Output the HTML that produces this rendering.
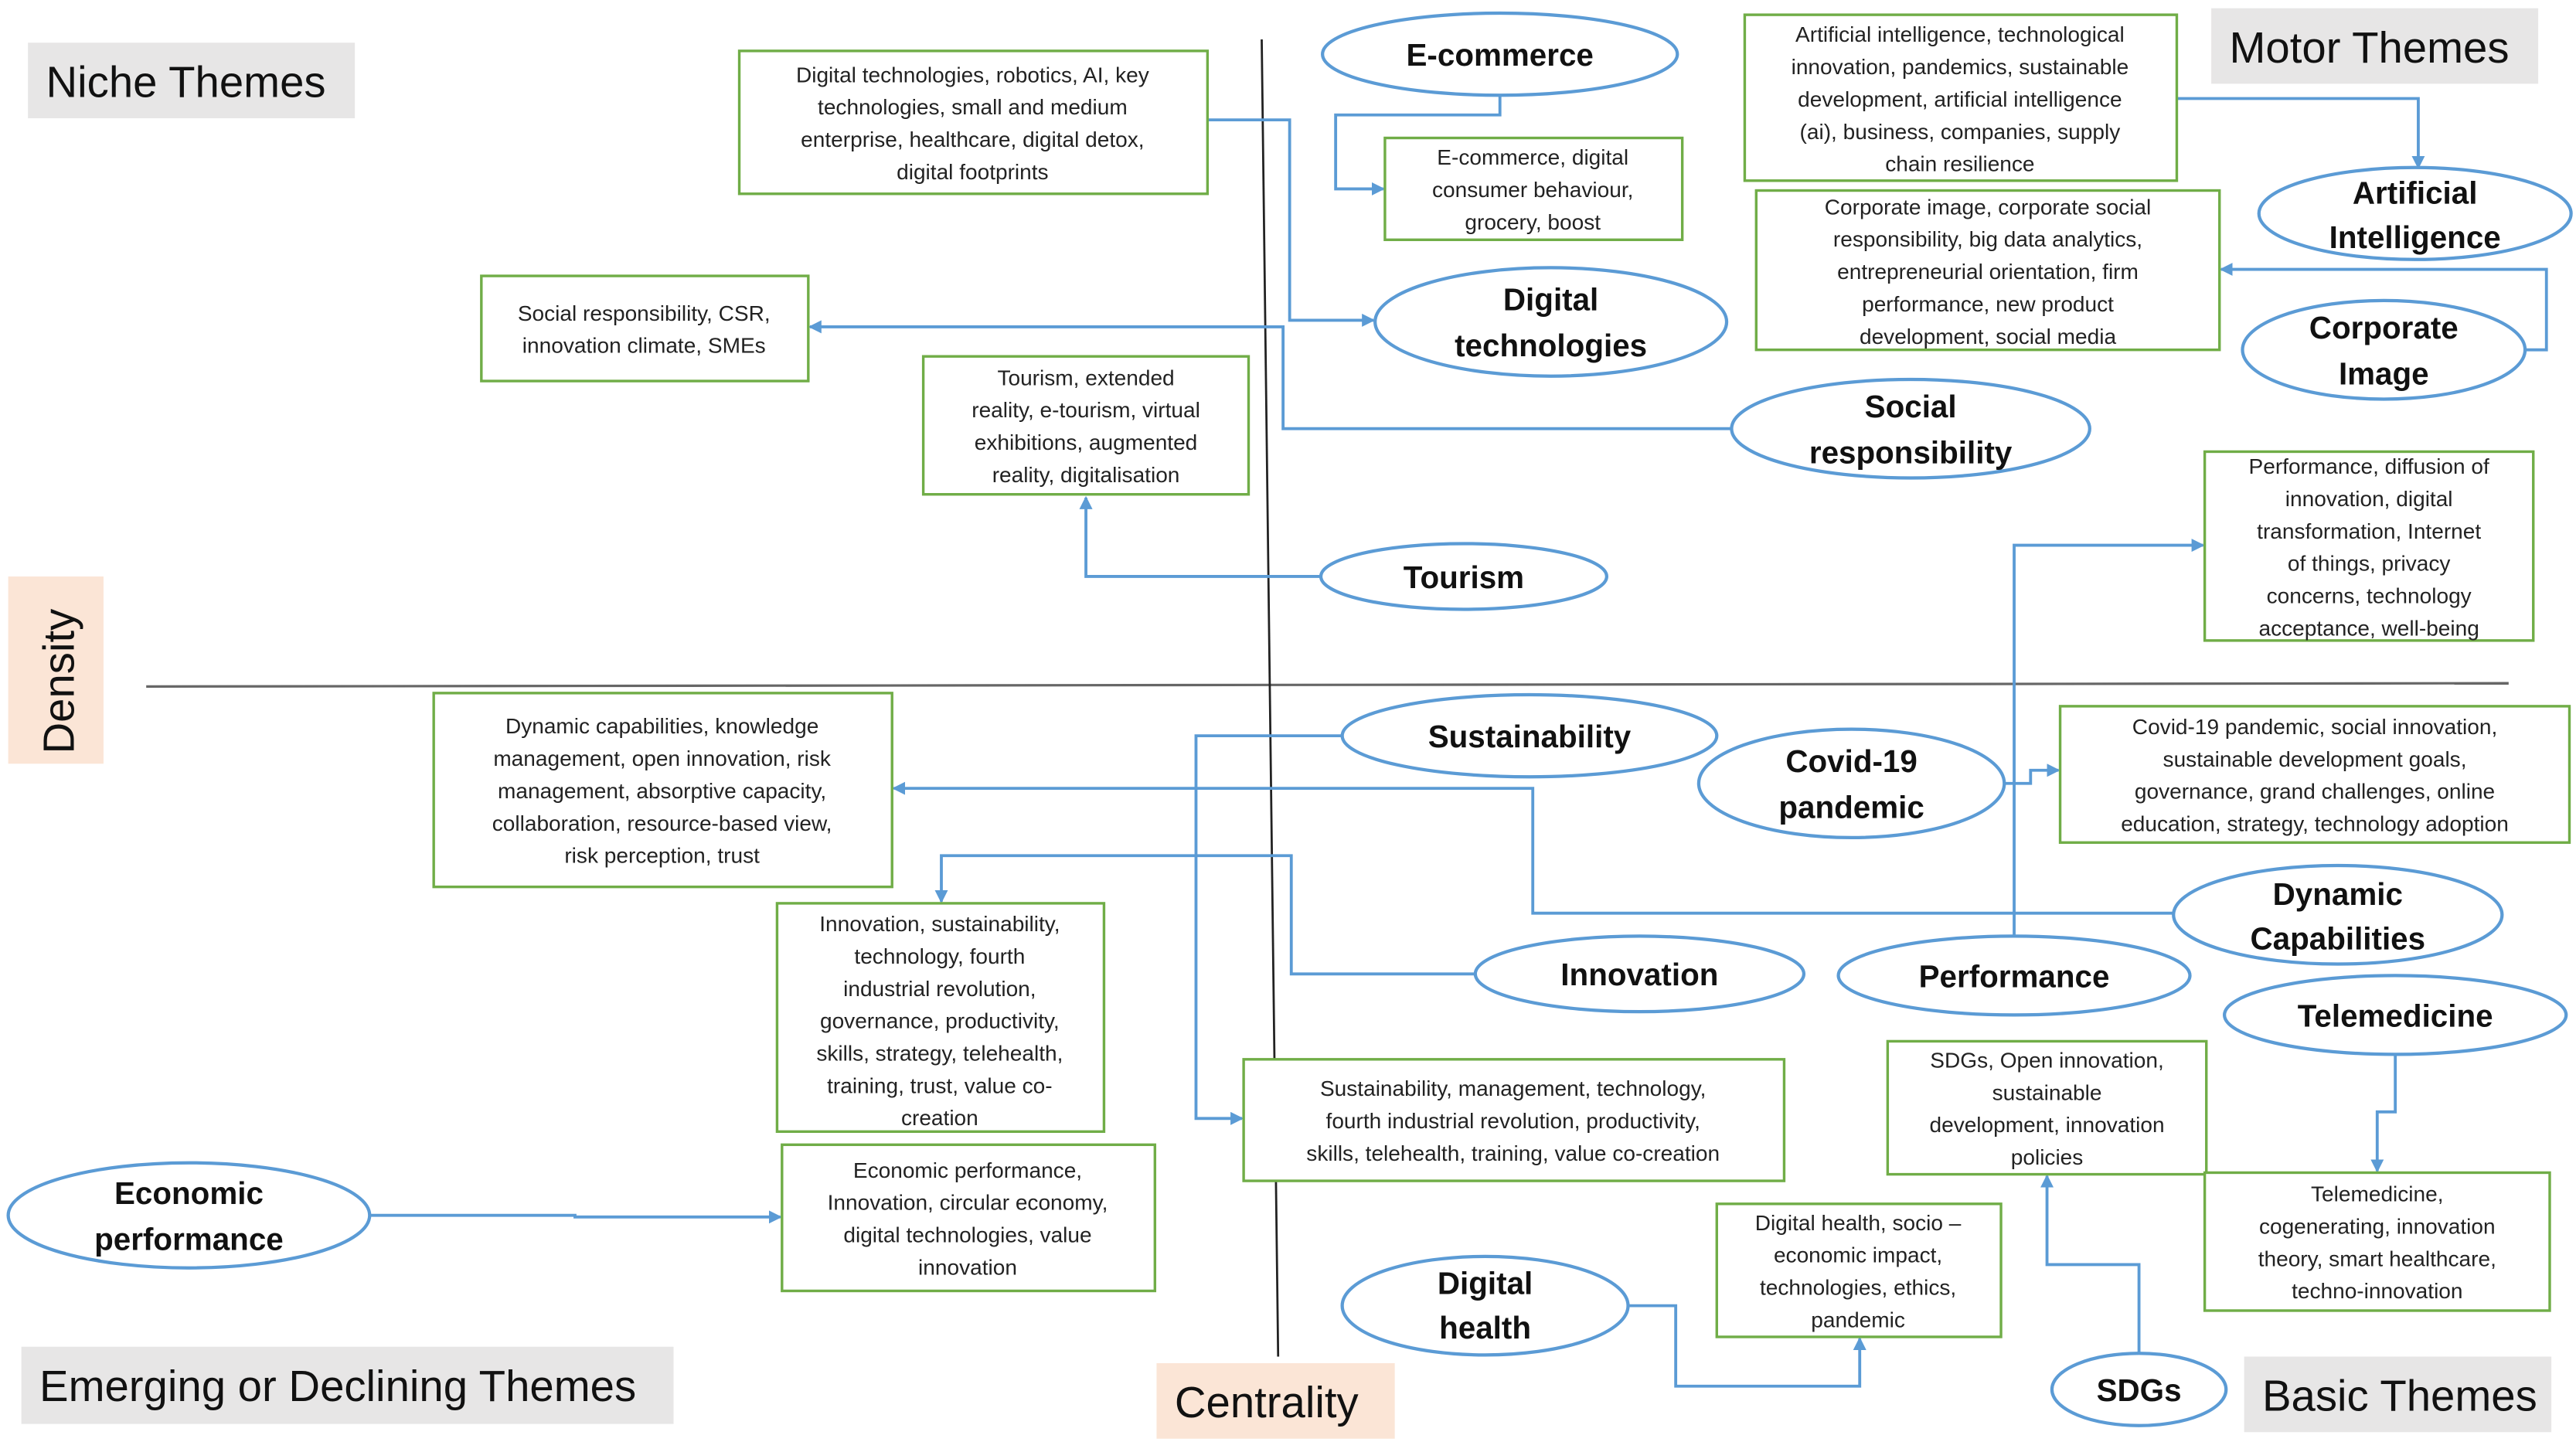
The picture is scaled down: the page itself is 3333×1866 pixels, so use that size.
<!DOCTYPE html>
<html><head><meta charset="utf-8"><style>
html,body{margin:0;padding:0;background:#fff;}
svg{display:block;}
.b{fill:#fff;stroke:#70ad47;stroke-width:1.6;}
.e{fill:#fff;stroke:#5b9bd5;stroke-width:2;}
.c{fill:none;stroke:#5b9bd5;stroke-width:1.8;}
.t{font-family:"Liberation Sans",sans-serif;font-size:13.2px;fill:#222;text-anchor:middle;}
.n{font-family:"Liberation Sans",sans-serif;font-size:19px;font-weight:bold;fill:#111;text-anchor:middle;}
.l{font-family:"Liberation Sans",sans-serif;font-size:26.5px;fill:#111;}
</style></head><body>
<svg width="3333" height="1866" viewBox="0 0 1568 878" preserveAspectRatio="none" xmlns="http://www.w3.org/2000/svg">
<defs><marker id="a" markerWidth="8" markerHeight="8" refX="7" refY="4" orient="auto" markerUnits="userSpaceOnUse"><path d="M0,0 L8,4 L0,8 z" fill="#5b9bd5"/></marker></defs>

<rect x="17" y="26" width="199" height="46" fill="#e7e6e6"/><text class="l" x="28" y="59">Niche Themes</text>
<rect x="1346" y="5" width="199" height="46" fill="#e7e6e6"/><text class="l" x="1357" y="38">Motor Themes</text>
<rect x="13" y="820" width="397" height="47" fill="#e7e6e6"/><text class="l" x="24" y="853">Emerging or Declining Themes</text>
<rect x="1366" y="826" width="187" height="46" fill="#e7e6e6"/><text class="l" x="1377" y="859">Basic Themes</text>
<rect x="5" y="351" width="58" height="114" fill="#fbe5d6"/><text class="l" transform="translate(45,459) rotate(-90)">Density</text>
<rect x="704" y="830" width="145" height="46" fill="#fbe5d6"/><text class="l" x="715" y="863">Centrality</text>

<line x1="89" y1="418" x2="1527" y2="416" stroke="#666" stroke-width="1.5"/>
<line x1="768" y1="24" x2="778" y2="826" stroke="#222" stroke-width="1.3"/>

<polyline class="c" points="735,73 785,73 785,195 836,195" marker-end="url(#a)"/>
<polyline class="c" points="913,58 913,70 813,70 813,115 842,115" marker-end="url(#a)"/>
<polyline class="c" points="1325,60 1472,60 1472,102" marker-end="url(#a)"/>
<polyline class="c" points="1537,213 1550,213 1550,164 1352,164" marker-end="url(#a)"/>
<polyline class="c" points="1054,261 781,261 781,199 493,199" marker-end="url(#a)"/>
<polyline class="c" points="804,351 661,351 661,303" marker-end="url(#a)"/>
<polyline class="c" points="1226,570 1226,332 1341,332" marker-end="url(#a)"/>
<polyline class="c" points="817,448 728,448 728,681 756,681" marker-end="url(#a)"/>
<polyline class="c" points="1220,477 1236,477 1236,469 1253,469" marker-end="url(#a)"/>
<polyline class="c" points="1323,556 933,556 933,480 544,480" marker-end="url(#a)"/>
<polyline class="c" points="898,593 786,593 786,521 573,521 573,549" marker-end="url(#a)"/>
<polyline class="c" points="1458,642 1458,677 1447,677 1447,713" marker-end="url(#a)"/>
<polyline class="c" points="225,740 350,740 350,741 475,741" marker-end="url(#a)"/>
<polyline class="c" points="991,795 1020,795 1020,844 1132,844 1132,815" marker-end="url(#a)"/>
<polyline class="c" points="1302,824 1302,770 1246,770 1246,716" marker-end="url(#a)"/>

<rect class="b" x="450" y="31" width="285" height="87"/>
<text class="t"><tspan x="592" y="50">Digital technologies, robotics, AI, key</tspan><tspan x="592" dy="19.7">technologies, small and medium</tspan><tspan x="592" dy="19.7">enterprise, healthcare, digital detox,</tspan><tspan x="592" dy="19.7">digital footprints</tspan></text>
<rect class="b" x="843" y="84" width="181" height="62"/>
<text class="t"><tspan x="933" y="100.3">E-commerce, digital</tspan><tspan x="933" dy="19.7">consumer behaviour,</tspan><tspan x="933" dy="19.7">grocery, boost</tspan></text>
<rect class="b" x="1062" y="9" width="263" height="101"/>
<text class="t"><tspan x="1193" y="25.5">Artificial intelligence, technological</tspan><tspan x="1193" dy="19.7">innovation, pandemics, sustainable</tspan><tspan x="1193" dy="19.7">development, artificial intelligence</tspan><tspan x="1193" dy="19.7">(ai), business, companies, supply</tspan><tspan x="1193" dy="19.7">chain resilience</tspan></text>
<rect class="b" x="1069" y="116" width="282" height="97"/>
<text class="t"><tspan x="1210" y="130.5">Corporate image, corporate social</tspan><tspan x="1210" dy="19.7">responsibility, big data analytics,</tspan><tspan x="1210" dy="19.7">entrepreneurial orientation, firm</tspan><tspan x="1210" dy="19.7">performance, new product</tspan><tspan x="1210" dy="19.7">development, social media</tspan></text>
<rect class="b" x="293" y="168" width="199" height="64"/>
<text class="t"><tspan x="392" y="195.2">Social responsibility, CSR,</tspan><tspan x="392" dy="19.7">innovation climate, SMEs</tspan></text>
<rect class="b" x="562" y="217" width="198" height="84"/>
<text class="t"><tspan x="661" y="234.5">Tourism, extended</tspan><tspan x="661" dy="19.7">reality, e-tourism, virtual</tspan><tspan x="661" dy="19.7">exhibitions, augmented</tspan><tspan x="661" dy="19.7">reality, digitalisation</tspan></text>
<rect class="b" x="1342" y="275" width="200" height="115"/>
<text class="t"><tspan x="1442" y="288.5">Performance, diffusion of</tspan><tspan x="1442" dy="19.7">innovation, digital</tspan><tspan x="1442" dy="19.7">transformation, Internet</tspan><tspan x="1442" dy="19.7">of things, privacy</tspan><tspan x="1442" dy="19.7">concerns, technology</tspan><tspan x="1442" dy="19.7">acceptance, well-being</tspan></text>
<rect class="b" x="264" y="422" width="279" height="118"/>
<text class="t"><tspan x="403" y="446.6">Dynamic capabilities, knowledge</tspan><tspan x="403" dy="19.7">management, open innovation, risk</tspan><tspan x="403" dy="19.7">management, absorptive capacity,</tspan><tspan x="403" dy="19.7">collaboration, resource-based view,</tspan><tspan x="403" dy="19.7">risk perception, trust</tspan></text>
<rect class="b" x="1254" y="430" width="310" height="83"/>
<text class="t"><tspan x="1409" y="447">Covid-19 pandemic, social innovation,</tspan><tspan x="1409" dy="19.7">sustainable development goals,</tspan><tspan x="1409" dy="19.7">governance, grand challenges, online</tspan><tspan x="1409" dy="19.7">education, strategy, technology adoption</tspan></text>
<rect class="b" x="473" y="550" width="199" height="139"/>
<text class="t"><tspan x="572" y="567">Innovation, sustainability,</tspan><tspan x="572" dy="19.7">technology, fourth</tspan><tspan x="572" dy="19.7">industrial revolution,</tspan><tspan x="572" dy="19.7">governance, productivity,</tspan><tspan x="572" dy="19.7">skills, strategy, telehealth,</tspan><tspan x="572" dy="19.7">training, trust, value co-</tspan><tspan x="572" dy="19.7">creation</tspan></text>
<rect class="b" x="757" y="645" width="329" height="74"/>
<text class="t"><tspan x="921" y="667.3">Sustainability, management, technology,</tspan><tspan x="921" dy="19.7">fourth industrial revolution, productivity,</tspan><tspan x="921" dy="19.7">skills, telehealth, training, value co-creation</tspan></text>
<rect class="b" x="1149" y="634" width="194" height="81"/>
<text class="t"><tspan x="1246" y="650">SDGs, Open innovation,</tspan><tspan x="1246" dy="19.7">sustainable</tspan><tspan x="1246" dy="19.7">development, innovation</tspan><tspan x="1246" dy="19.7">policies</tspan></text>
<rect class="b" x="476" y="697" width="227" height="89"/>
<text class="t"><tspan x="589" y="717">Economic performance,</tspan><tspan x="589" dy="19.7">Innovation, circular economy,</tspan><tspan x="589" dy="19.7">digital technologies, value</tspan><tspan x="589" dy="19.7">innovation</tspan></text>
<rect class="b" x="1045" y="733" width="173" height="81"/>
<text class="t"><tspan x="1131" y="749">Digital health, socio –</tspan><tspan x="1131" dy="19.7">economic impact,</tspan><tspan x="1131" dy="19.7">technologies, ethics,</tspan><tspan x="1131" dy="19.7">pandemic</tspan></text>
<rect class="b" x="1342" y="714" width="210" height="84"/>
<text class="t"><tspan x="1447" y="731.5">Telemedicine,</tspan><tspan x="1447" dy="19.7">cogenerating, innovation</tspan><tspan x="1447" dy="19.7">theory, smart healthcare,</tspan><tspan x="1447" dy="19.7">techno-innovation</tspan></text>

<ellipse class="e" cx="913" cy="33" rx="108" ry="25"/><text class="n" x="913" y="40">E-commerce</text>
<ellipse class="e" cx="1470" cy="130" rx="95" ry="28"/><text class="n"><tspan x="1470" y="124">Artificial</tspan><tspan x="1470" y="151">Intelligence</tspan></text>
<ellipse class="e" cx="944" cy="196" rx="107" ry="33"/><text class="n"><tspan x="944" y="189">Digital</tspan><tspan x="944" y="217">technologies</tspan></text>
<ellipse class="e" cx="1451" cy="213" rx="86" ry="30"/><text class="n"><tspan x="1451" y="206">Corporate</tspan><tspan x="1451" y="234">Image</tspan></text>
<ellipse class="e" cx="1163" cy="261" rx="109" ry="30"/><text class="n"><tspan x="1163" y="254">Social</tspan><tspan x="1163" y="282">responsibility</tspan></text>
<ellipse class="e" cx="891" cy="351" rx="87" ry="20"/><text class="n" x="891" y="358">Tourism</text>
<ellipse class="e" cx="931" cy="448" rx="114" ry="25"/><text class="n" x="931" y="455">Sustainability</text>
<ellipse class="e" cx="1127" cy="477" rx="93" ry="33"/><text class="n"><tspan x="1127" y="470">Covid-19</tspan><tspan x="1127" y="498">pandemic</tspan></text>
<ellipse class="e" cx="1423" cy="557" rx="100" ry="30"/><text class="n"><tspan x="1423" y="551">Dynamic</tspan><tspan x="1423" y="578">Capabilities</tspan></text>
<ellipse class="e" cx="998" cy="593" rx="100" ry="23"/><text class="n" x="998" y="600">Innovation</text>
<ellipse class="e" cx="1226" cy="594" rx="107" ry="24"/><text class="n" x="1226" y="601">Performance</text>
<ellipse class="e" cx="1458" cy="618" rx="104" ry="24"/><text class="n" x="1458" y="625">Telemedicine</text>
<ellipse class="e" cx="115" cy="740" rx="110" ry="32"/><text class="n"><tspan x="115" y="733">Economic</tspan><tspan x="115" y="761">performance</tspan></text>
<ellipse class="e" cx="904" cy="795" rx="87" ry="30"/><text class="n"><tspan x="904" y="788">Digital</tspan><tspan x="904" y="815">health</tspan></text>
<ellipse class="e" cx="1302" cy="846" rx="53" ry="22"/><text class="n" x="1302" y="853">SDGs</text>
</svg>
</body></html>
